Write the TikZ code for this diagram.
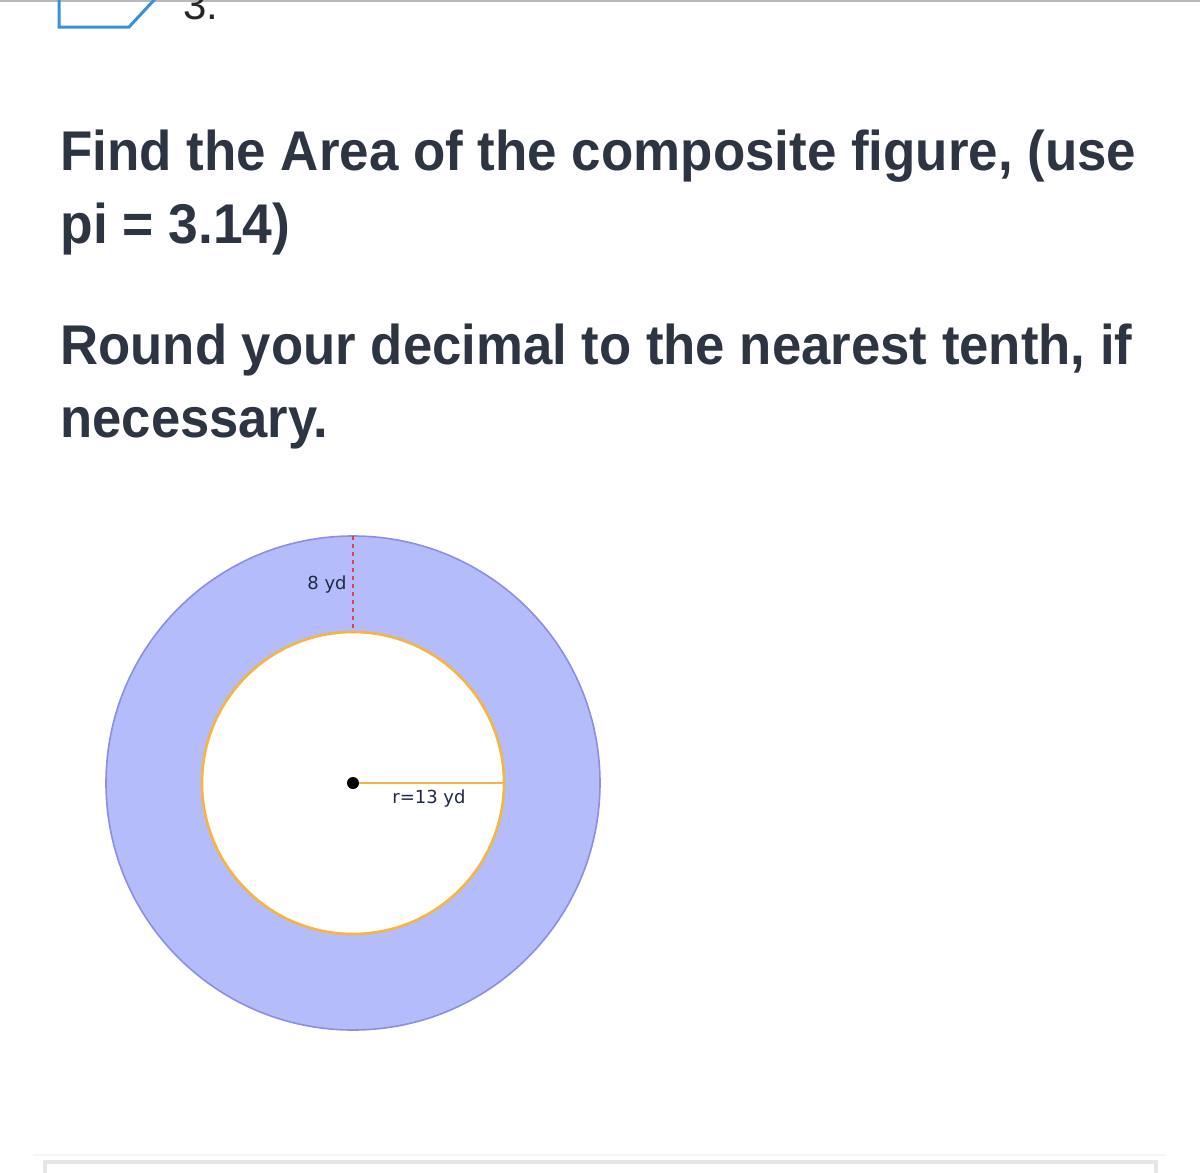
\documentclass[tikz,border=0pt]{standalone}
\usepackage{fontspec}
\usepackage{graphicx}
\setmainfont{Liberation Sans}
\newfontfamily\figfont{DejaVu Sans}
\definecolor{txt}{HTML}{2D3542}
\definecolor{ringfill}{HTML}{B5BCFA}
\definecolor{ringline}{HTML}{8A8EE6}
\definecolor{inline}{HTML}{F5B53F}
\definecolor{dashred}{HTML}{D9434F}
\definecolor{iconblue}{HTML}{3A8EDD}
\definecolor{toprule}{HTML}{B8B8B8}
\definecolor{boxrule}{HTML}{E6E6E6}
\definecolor{lbl}{HTML}{1F2A44}
\newlength\fitwd
\newcommand\fitto[2]{\settowidth{\fitwd}{#2}\pgfmathsetmacro\fitfac{#1/\fitwd}\scalebox{\fitfac}[1]{#2}}
\newcommand\titlefont{\fontsize{28pt}{32pt}\selectfont\bfseries}
\tikzset{
  titleline/.style={anchor=base west, inner sep=0pt, text=txt},
  figlabel/.style={inner sep=0pt, text=lbl, font=\figfont\fontsize{9pt}{10pt}\selectfont},
}
\begin{document}
\begin{tikzpicture}[x=0.5pt,y=-0.5pt]
\useasboundingbox (0,0) rectangle (1200,1173);
\clip (0,0) rectangle (1200,1173);
% top bar
\draw[toprule, line width=1pt] (0,1) -- (1200,1);
\draw[iconblue, line width=1.5pt, line join=miter] (59,-2) -- (59,27) -- (129,27) -- (156,-2);
\node[anchor=base west, inner sep=0pt, text=black!85, font=\fontsize{21pt}{24pt}\selectfont] (num) at (183,19) {3.};
% question text
\node[titleline] (l1) at (60,170) {\fitto{538pt}{\titlefont Find the Area of the composite figure, (use}};
\node[titleline] (l2) at (60,243) {\fitto{115pt}{\titlefont pi = 3.14)}};
\node[titleline] (l3) at (60,364) {\fitto{536pt}{\titlefont Round your decimal to the nearest tenth, if}};
\node[titleline] (l4) at (60,437) {\fitto{134pt}{\titlefont necessary.}};
% figure
\coordinate (c) at (353,783);
\fill[ringfill] (c) circle[radius=247];
\draw[ringline, line width=0.8pt] (c) circle[radius=247];
\draw[inline, line width=1.3pt, fill=white] (c) circle[radius=151];
\coordinate (otop) at (353,536);
\coordinate (itop) at (353,632);
\coordinate (iright) at (504,783);
\draw[dashred, line width=1.4pt, dash pattern=on 2pt off 2pt] (otop) -- (itop);
\draw[inline, line width=1.1pt] (c) -- (iright);
\fill[black] (c) circle[radius=6];
\node[figlabel, anchor=east] (eight) at (347,585) {8 yd};
\node[figlabel] (rlab) at (429,799) {r=13 yd};
% bottom answer box
\draw[black!4, line width=0.6pt] (33,1155) -- (1166,1155);
\draw[boxrule, line width=2pt, fill=white] (45,1185) -- (45,1162) -- (1156,1162) -- (1156,1185);
\end{tikzpicture}
\end{document}
